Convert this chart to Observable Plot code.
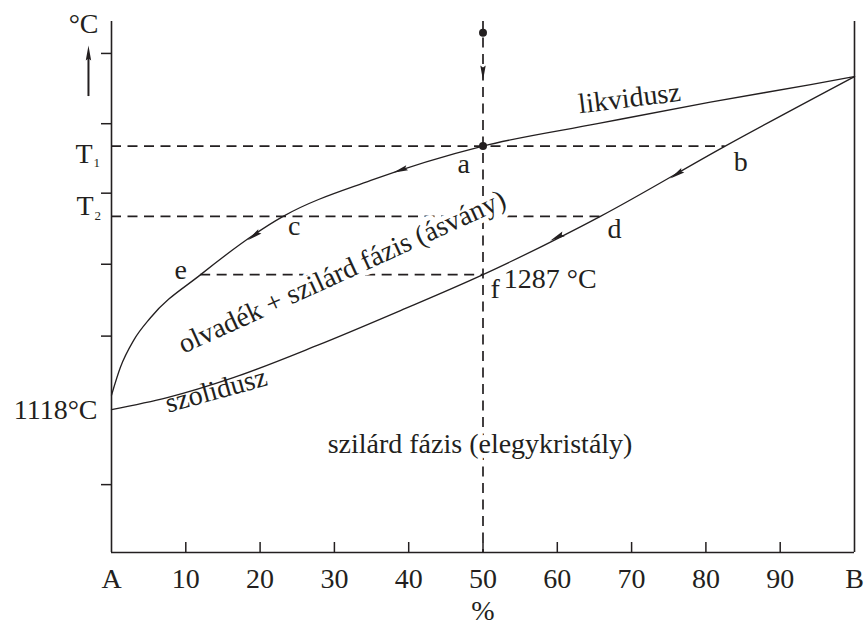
<!DOCTYPE html>
<html><head><meta charset="utf-8">
<script src="https://cdn.jsdelivr.net/npm/d3@7"></script>
<script src="https://cdn.jsdelivr.net/npm/@observablehq/plot@0.6"></script>
<style>html,body{margin:0;padding:0;background:#fff;} #chart svg{display:block;}</style>
</head><body><div id="chart"></div>
<script>
// ---- data (composition %, temperature °C) ----
const liquidusX = [0, 1.2, 3.0, 5.25, 12.0, 23.1, 34.9, 50, 65.4, 80.6, 94.1, 100];
const liquidusT = [1136, 1171, 1205, 1233, 1287, 1360, 1405, 1448, 1476, 1503, 1525, 1535];
const solidusX = [0, 7.5, 16.4, 27.6, 38.9, 50, 65.8, 82.6, 100];
const solidusT = [1118, 1133, 1158, 1198, 1242, 1287, 1360, 1448, 1535];

const T1 = 1448, T2 = 1360, TF = 1287, TA = 1118;
const startT = 1590;           // starting melt point above "a"
const compX = 50;              // bulk composition
const pointX = {a: 50, b: 82.6, c: 23.1, d: 65.8, e: 12.0, f: 50};

const xTickPos = [0, 10, 20, 30, 40, 50, 60, 70, 80, 90, 100];
const xTickLabels = ["A", "10", "20", "30", "40", "50", "60", "70", "80", "90", "B"];
const xTickMarks = [10, 20, 30, 40, 50, 60, 70, 80, 90];
const yTicks = [1024, 1210, 1300, 1389, 1476, 1564];

const pointLabels = ["a", "b", "c", "d", "e"];
const pointLabelX = [47.4, 84.7, 24.6, 67.7, 9.3];
const pointLabelT = [1414, 1417, 1336, 1333, 1282];

const arrowX = [50, 38.9, 19.2, 76.1, 60.0];
const arrowT = [1540, 1418, 1336, 1413, 1334];
const arrowToX = [50, 34.9, 16.5, 74.8, 50];
const arrowToT = [1500, 1405, 1318, 1405, 1287];

const regionText = ["likvidusz", "olvadék + szilárd fázis (ásvány)", "szolidusz", "szilárd fázis (elegykristály)"];
const regionX = [63.0, 9.7, 7.65, 49.6];
const regionT = [1489, 1188, 1114, 1064];
const regionRotate = [-7, -24.5, -15.5, 0];

// ---- layout ----
const W = 866, H = 626, mL = 111, mR = 12, mT = 21, mB = 74;
const xDomain = [0, 100], yDomain = [939, 1604];
const ink = "#231f20";
const serif = "'Liberation Serif', 'Times New Roman', Times, serif";
const FS = 28;

const xs = d3.scaleLinear(xDomain, [mL, W - mR]);
const ys = d3.scaleLinear(yDomain, [H - mB, mT]);

const liquidus = liquidusX.map((x, i) => ({x, T: liquidusT[i]}));
const solidus = solidusX.map((x, i) => ({x, T: solidusT[i]}));
const arrows = arrowX.map((x, i) => {
  const dx = xs(arrowToX[i]) - xs(x), dy = ys(arrowToT[i]) - ys(arrowT[i]);
  return {x, T: arrowT[i], angle: Math.atan2(dx, -dy) * 180 / Math.PI};
});
const hDash = [
  {T: T1, x1: 0, x2: pointX.b},
  {T: T2, x1: 0, x2: pointX.d},
  {T: TF, x1: pointX.e, x2: pointX.f}
];
const vDash = [{x: compX, T1: yDomain[1], T2: yDomain[0]}];
const dots = [{x: compX, T: startT}, {x: compX, T: T1}];
const pLabels = pointLabels.map((t, i) => ({t, x: pointLabelX[i], T: pointLabelT[i]}));
const regions = regionText.map((t, i) => ({t, x: regionX[i], T: regionT[i], r: regionRotate[i]}));
const xLab = xTickLabels.map((t, i) => ({t, x: xTickPos[i]}));

const arrowHead = {
  draw(ctx) {
    ctx.moveTo(0, -8); ctx.lineTo(2.7, 7); ctx.lineTo(0, 5); ctx.lineTo(-2.7, 7); ctx.closePath();
  }
};
const tickLenX = 10 * (yDomain[1] - yDomain[0]) / (H - mB - mT);
const tickLenY = 10 * (xDomain[1] - xDomain[0]) / (W - mL - mR);
const dash = {stroke: ink, strokeWidth: 1.7, strokeDasharray: "10,6.5"};
const txt = {fontFamily: serif, fontSize: FS, fill: ink, lineAnchor: "bottom"};

const chart = Plot.plot({
  width: W, height: H,
  marginLeft: mL, marginRight: mR, marginTop: mT, marginBottom: mB,
  x: {domain: xDomain, axis: null},
  y: {domain: yDomain, axis: null},
  style: {background: "white", fontFamily: serif, color: ink},
  marks: [
    Plot.ruleY(hDash, {y: "T", x1: "x1", x2: "x2", ...dash}),
    Plot.ruleX(vDash, {x: "x", y1: "T1", y2: "T2", ...dash}),
    // axes frame
    Plot.ruleX([0, 100], {stroke: ink, strokeWidth: 1.6}),
    Plot.ruleY([yDomain[0]], {stroke: ink, strokeWidth: 1.6}),
    Plot.ruleY(yTicks, {x1: -tickLenY, x2: 0, stroke: ink, strokeWidth: 1.5}),
    Plot.ruleX(xTickMarks, {y1: yDomain[0], y2: yDomain[0] + tickLenX, stroke: ink, strokeWidth: 1.5}),
    // curves
    Plot.line(liquidus, {x: "x", y: "T", curve: "monotone-x", stroke: ink, strokeWidth: 1.3}),
    Plot.line(solidus, {x: "x", y: "T", curve: "monotone-x", stroke: ink, strokeWidth: 1.3}),
    Plot.dot(dots, {x: "x", y: "T", r: 4, fill: ink, stroke: null}),
    Plot.dot(arrows, {x: "x", y: "T", symbol: arrowHead, rotate: "angle", fill: ink, stroke: null}),
    // up arrow next to °C
    Plot.ruleX([{x: -3.1, a: 1510, b: 1560}], {x: "x", y1: "a", y2: "b", stroke: ink, strokeWidth: 2}),
    Plot.dot([{x: -3.1, T: 1564}], {x: "x", y: "T", symbol: arrowHead, fill: ink, stroke: null}),
    // texts
    Plot.text(regions.filter(d => d.r !== 0 && d.t !== regionText[1]), {x: "x", y: "T", text: "t", rotate: "r", textAnchor: "start", ...txt}),
    Plot.text([regions[1]], {x: "x", y: "T", text: "t", rotate: "r", textAnchor: "start", stroke: "white", strokeWidth: 10, paintOrder: "stroke", ...txt}),
    Plot.text([regions[3]], {x: "x", y: "T", text: "t", textAnchor: "middle", stroke: "white", strokeWidth: 10, paintOrder: "stroke", ...txt}),
    Plot.text(pLabels, {x: "x", y: "T", text: "t", ...txt}),
    Plot.text([{x: 51.0, T: 1258}], {x: "x", y: "T", text: () => "f", textAnchor: "start", ...txt}),
    Plot.text([{x: 52.8, T: 1270}], {x: "x", y: "T", text: () => "1287 °C", textAnchor: "start", ...txt}),
    Plot.text([{T: startT}], {x: () => 0, y: "T", text: () => "°C", textAnchor: "end", dx: -13, ...txt}),
    Plot.text([{T: TA}], {x: () => 0, y: "T", text: () => "1118°C", textAnchor: "end", dx: -14, dy: 9, ...txt}),
    Plot.text([{T: T1}], {x: () => 0, y: "T", text: () => "T", textAnchor: "end", dx: -19, dy: 17, ...txt}),
    Plot.text([{T: T1}], {x: () => 0, y: "T", text: () => "1", textAnchor: "start", dx: -18, dy: 21, ...txt, fontSize: 13}),
    Plot.text([{T: T2}], {x: () => 0, y: "T", text: () => "T", textAnchor: "end", dx: -18, dy: -1, ...txt}),
    Plot.text([{T: T2}], {x: () => 0, y: "T", text: () => "2", textAnchor: "start", dx: -17, dy: 4, ...txt, fontSize: 13}),
    Plot.text(xLab, {x: "x", text: "t", frameAnchor: "bottom", dy: 35, ...txt}),
    Plot.text([{x: 50, t: "%"}], {x: "x", text: "t", frameAnchor: "bottom", dy: 67, ...txt})
  ]
});
document.getElementById("chart").appendChild(chart);
</script></body></html>
